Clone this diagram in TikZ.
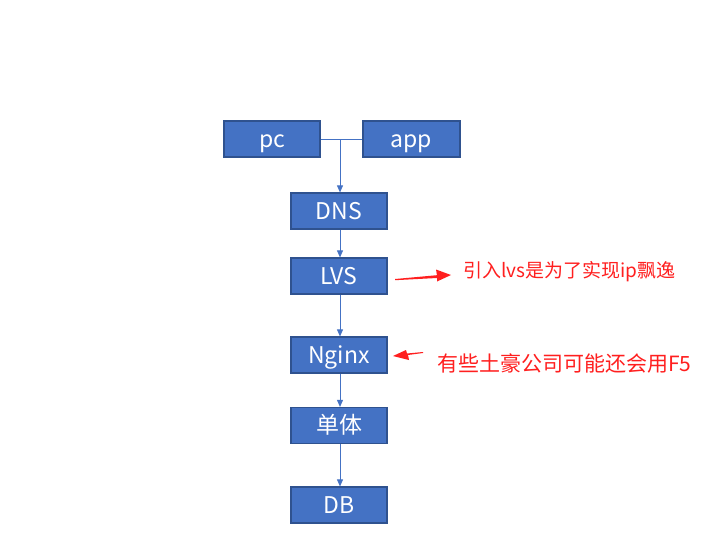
\documentclass[tikz,border=0pt]{standalone}
\usepackage{fontspec}
\setmainfont{Noto Sans CJK SC}
\usetikzlibrary{arrows.meta}
\definecolor{boxfill}{HTML}{4472C4}
\definecolor{boxline}{HTML}{2F528F}
\definecolor{noteRed}{HTML}{FF1F1F}
\tikzset{
  box/.style={draw=boxline, line width=1.2pt, fill=boxfill, text=white, minimum width=96pt, minimum height=36pt, inner sep=0pt, text height=18pt, text depth=2pt, font=\fontsize{23}{26}\selectfont},
  flow/.style={draw=boxfill, line width=0.9pt, -{Triangle[length=7pt,width=6pt]}},
  note/.style={text=noteRed, inner sep=0pt, anchor=west}
}
\begin{document}
\begin{tikzpicture}[x=1pt,y=-1pt]
\useasboundingbox[fill=white] (0,0) rectangle (713,554);
\node[box] (pc) at (272,139) {pc};
\node[box, minimum width=97pt] (app) at (411.5,139) {app};
\node[box] (dns) at (339,211) {DNS};
\node[box] (lvs) at (339,276) {LVS};
\node[box] (nginx) at (339,355) {Nginx};
\node[box] (mono) at (339,425.5) {单体};
\node[box] (db) at (339,505) {DB};
\draw[draw=boxfill, line width=0.9pt] (pc.east) -- (app.west);
\coordinate (split) at (340,139);
\draw[flow] (split) -- (split |- dns.north);
\draw[flow] (dns.south -| split) -- (lvs.north -| split);
\draw[flow] (lvs.south -| split) -- (nginx.north -| split);
\draw[flow] (nginx.south -| split) -- (mono.north -| split);
\draw[flow] (mono.south -| split) -- (db.north -| split);
% red arrows
\coordinate (a1t) at (395,279);
\coordinate (a1h) at (451,275);
\fill[noteRed] (a1t) -- (437,275.2) -- (436,269.5) -- (a1h) -- (437,281.5) -- (437,278) -- (395,280.2) -- cycle;
\node[note, font=\fontsize{19}{22}\selectfont] (n1) at (463,272) {引入lvs是为了实现ip飘逸};
\coordinate (a2h) at (393,356);
\fill[noteRed] (423,353) -- (408,355) -- (409,360) -- (a2h) -- (406,350) -- (407,353.5) -- (423,352) -- cycle;
\node[note, font=\fontsize{21}{24}\selectfont] (n2) at (437,363) {有些土豪公司可能还会用F5};
\end{tikzpicture}
\end{document}
